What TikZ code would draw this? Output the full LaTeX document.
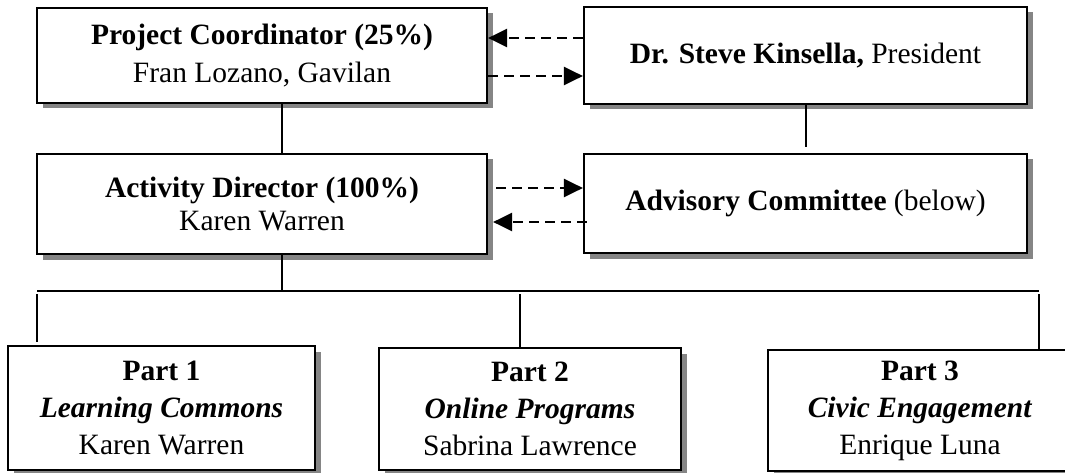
\documentclass[tikz,border=0pt]{standalone}
\usepackage{fontspec}
\setmainfont{Liberation Serif}
\usetikzlibrary{shadows,arrows.meta}
\begin{document}
\begin{tikzpicture}[x=1pt,y=-1pt,
  box/.style={draw=black,line width=2.2pt,fill=white,inner sep=0pt,align=center,
    font=\fontsize{29.5}{38}\selectfont,
    drop shadow={shadow xshift=5.5pt,shadow yshift=-5.5pt,fill=black!48,opacity=1}},
  conn/.style={line width=2pt},
  dasharrow/.style={line width=2.4pt,dash pattern=on 10pt off 6pt,
    -{Triangle[length=19pt,width=18pt]}}]
\useasboundingbox (0,0) rectangle (1065,473);
\node[box,minimum width=450pt,minimum height=95pt] (pc) at (262,55.5)
  {\textbf{Project Coordinator (25\%)}\\Fran Lozano, Gavilan};
\node[box,minimum width=443pt,minimum height=97pt] (pres) at (805.5,55.5)
  {\textbf{Dr. Steve Kinsella,} President};
\node[box,minimum width=450pt,minimum height=100pt,font=\fontsize{29.5}{33}\selectfont] (ad) at (262,204)
  {\textbf{Activity Director (100\%)}\\Karen Warren};
\node[box,minimum width=443pt,minimum height=99pt] (ac) at (805.5,203.5)
  {\textbf{Advisory Committee} (below)};
\node[box,minimum width=307pt,minimum height=124pt,font=\fontsize{29.5}{37}\selectfont] (p1) at (161.5,408)
  {\textbf{Part 1}\\\textbf{\itshape Learning Commons}\\Karen Warren};
\node[box,minimum width=302pt,minimum height=122pt,font=\fontsize{29.5}{37}\selectfont] (p2) at (530,409)
  {\textbf{Part 2}\\\textbf{\itshape Online Programs}\\Sabrina Lawrence};
\node[box,minimum width=304pt,minimum height=121pt,font=\fontsize{29.5}{37}\selectfont] (p3) at (920,410.5)
  {\textbf{Part 3}\\\textbf{\itshape Civic Engagement}\\Enrique Luna};
% vertical connectors
\coordinate (v1) at ([xshift=20pt]pc.south);
\draw[conn] (v1) -- (v1 |- ad.north);
\coordinate (v2) at ([xshift=20pt]ad.south);
\coordinate (busL) at (37,291);
\coordinate (busR) at (1039,291);
\draw[conn] (v2) -- (v2 |- busL);
\draw[conn] (busL) -- (busR);
\coordinate (d1) at (37,294);
\draw[conn] (d1) -- (37,342);
\coordinate (d2) at (520,294);
\draw[conn] (d2) -- (d2 |- p2.north);
\coordinate (d3) at (1039,294);
\draw[conn] (d3) -- (d3 |- p3.north);
\coordinate (v3) at ([xshift=0.5pt]pres.south);
\draw[conn] (v3) -- ([yshift=6pt]v3 |- ac.north);
% dashed arrows
\coordinate (a1) at ([yshift=17.5pt]pres.west);
\draw[dasharrow] (a1) -- (a1 -| pc.east);
\coordinate (a2) at ([yshift=-20.5pt]pc.east);
\draw[dasharrow] (a2) -- (a2 -| pres.west);
\coordinate (a3) at ([yshift=16pt,xshift=8pt]ad.east);
\draw[dasharrow] (a3) -- (a3 -| ac.west);
\coordinate (a4) at ([yshift=-18.5pt,xshift=4pt]ac.west);
\draw[dasharrow] (a4) -- ([xshift=5pt]a4 -| ad.east);
\end{tikzpicture}
\end{document}
